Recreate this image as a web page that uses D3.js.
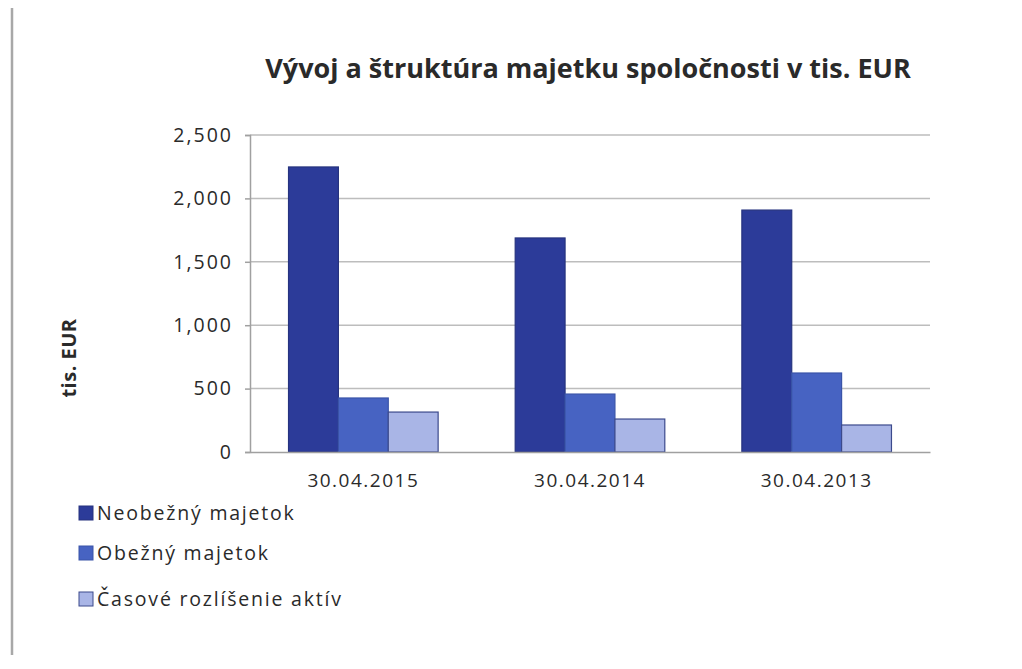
<!DOCTYPE html>
<html>
<head>
<meta charset="utf-8">
<script src="https://cdn.jsdelivr.net/npm/d3@7"></script>
<style>
  html, body { margin: 0; padding: 0; background: #fff; }
  svg { display: block; }
</style>
</head>
<body>
<svg id="chart" width="1022" height="669"></svg>
<script>
// data (tis. EUR)
const categories = ['30.04.2015', '30.04.2014', '30.04.2013'];
const seriesNames = ['Neobežný majetok', 'Obežný majetok', 'Časové rozlíšenie aktív'];
const neobezny = [2248, 1688, 1908];
const obezny = [426, 457, 623];
const casove = [315, 260, 213];
const yTicks = [0, 500, 1000, 1500, 2000, 2500];

const colors = ['#2c3b99', '#4763c2', '#a9b5e6'];
const strokes = ['#26337f', '#3a54a8', '#3c4a8c'];

const svg = d3.select('#chart');
const plot = { left: 250, right: 930, top: 135, bottom: 452 };
const font = '"Open Sans", "Noto Sans", sans-serif';

// left margin rule from the scanned page
svg.append('line')
  .attr('x1', 12).attr('x2', 12).attr('y1', 8).attr('y2', 655)
  .attr('stroke', '#a8a8a8').attr('stroke-width', 2.5);

const x = d3.scaleBand().domain(categories).range([plot.left, plot.right]).paddingInner(0.34).paddingOuter(0.17);
const xs = d3.scaleBand().domain(d3.range(3)).range([0, x.bandwidth()]);
const y = d3.scaleLinear().domain([0, 2500]).range([plot.bottom, plot.top]);

// gridlines
svg.append('g').selectAll('line').data(yTicks.slice(1)).join('line')
  .attr('x1', plot.left).attr('x2', plot.right)
  .attr('y1', d => y(d)).attr('y2', d => y(d))
  .attr('stroke', '#bdbdbd').attr('stroke-width', 1.5);

// y axis
const yAxis = svg.append('g')
  .attr('transform', `translate(${plot.left},0)`)
  .call(d3.axisLeft(y).tickValues(yTicks).tickSize(5).tickPadding(12).tickFormat(d3.format(',')));
yAxis.select('.domain').attr('stroke', '#a0a0a0').attr('stroke-width', 1.5);
yAxis.selectAll('.tick line').attr('stroke', '#a0a0a0').attr('stroke-width', 1.5);
yAxis.selectAll('text').attr('font-family', font).attr('font-size', 19.5)
  .attr('letter-spacing', 2).attr('fill', '#2a2a2a');

// bars
const series = [neobezny, obezny, casove];
series.forEach((vals, si) => {
  svg.append('g').selectAll('rect').data(vals).join('rect')
    .attr('x', (d, i) => x(categories[i]) + xs(si))
    .attr('y', d => y(d))
    .attr('width', xs.bandwidth())
    .attr('height', d => y(0) - y(d))
    .attr('fill', colors[si])
    .attr('stroke', strokes[si])
    .attr('stroke-width', 1.2);
});

// x axis
const xAxis = svg.append('g')
  .attr('transform', `translate(0,${plot.bottom})`)
  .call(d3.axisBottom(x).tickSize(0).tickPadding(22));
xAxis.select('.domain').attr('stroke', '#a0a0a0').attr('stroke-width', 1.5);
xAxis.selectAll('text').attr('font-family', font).attr('font-size', 19)
  .attr('letter-spacing', 1.5).attr('fill', '#2a2a2a');

// title
svg.append('text')
  .attr('x', 588).attr('y', 78)
  .attr('text-anchor', 'middle')
  .attr('font-family', font).attr('font-weight', 'bold').attr('font-size', 27)
  .attr('fill', '#2a2a2a')
  .text('Vývoj a štruktúra majetku spoločnosti v tis. EUR');

// y axis title
svg.append('text')
  .attr('transform', 'translate(76,358) rotate(-90)')
  .attr('text-anchor', 'middle')
  .attr('font-family', font).attr('font-weight', 'bold').attr('font-size', 20)
  .attr('letter-spacing', 0.5)
  .attr('fill', '#2a2a2a')
  .text('tis. EUR');

// legend
const legendY = [513, 553, 599];
const legend = svg.append('g').selectAll('g').data(seriesNames).join('g')
  .attr('transform', (d, i) => `translate(79,${legendY[i]})`);
legend.append('rect')
  .attr('x', 0).attr('y', -7).attr('width', 14).attr('height', 14)
  .attr('fill', (d, i) => colors[i])
  .attr('stroke', (d, i) => strokes[i]).attr('stroke-width', 1);
legend.append('text')
  .attr('x', 18).attr('y', 7)
  .attr('font-family', font).attr('font-size', 19.5).attr('letter-spacing', 1.8)
  .attr('fill', '#2a2a2a')
  .text(d => d);
</script>
</body>
</html>
